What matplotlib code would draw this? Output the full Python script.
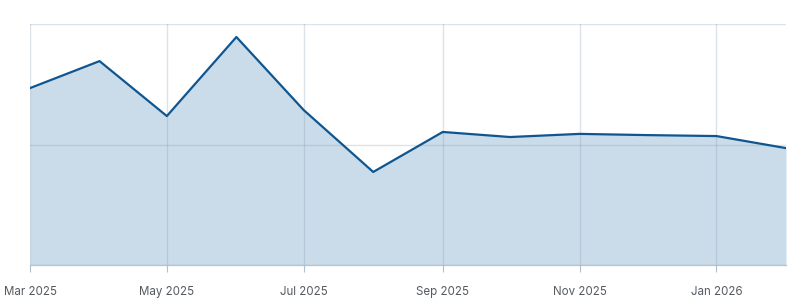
import matplotlib
matplotlib.use("Agg")
import matplotlib.pyplot as plt
import matplotlib.dates as mdates
import numpy as np
import pandas as pd

months = ["2025-03", "2025-04", "2025-05", "2025-06", "2025-07", "2025-08",
          "2025-09", "2025-10", "2025-11", "2025-12", "2026-01", "2026-02"]
values = [73.4, 84.6, 61.8, 94.6, 64.3, 38.6, 55.2, 53.1, 54.4, 53.9, 53.5, 48.5]
tick_months = ["2025-03", "2025-05", "2025-07", "2025-09", "2025-11", "2026-01"]
tick_labels = ["Mar 2025", "May 2025", "Jul 2025", "Sep 2025", "Nov 2025", "Jan 2026"]

x = pd.to_datetime(months)
xt = pd.to_datetime(tick_months)

plt.rcParams['font.family'] = ['Inter', 'DejaVu Sans']
fig = plt.figure(figsize=(7.96, 3.06), dpi=100)
ax = fig.add_axes([30/796, 41/306, 756/796, 241/306])

ax.fill_between(x, values, 0, color="#cadcea", linewidth=0, zorder=1)
ax.plot(x, values, color="#0f5690", linewidth=1.6, zorder=3)

ax.set_xlim(x[0], x[-1])
ax.set_ylim(0, 100)
ax.set_yticks([0, 50, 100])
ax.set_yticklabels([])
ax.tick_params(axis='y', length=0)
ax.set_xticks(xt)
ax.set_xticklabels(tick_labels, fontsize=8.3, color="#555a60")
ax.tick_params(axis='x', length=5, width=0.8, color="#b0bfcc", pad=10)

ax.grid(True, color="#7f98b0", alpha=0.28, linewidth=1.0, zorder=2)
ax.set_axisbelow(False)
for s in ["top", "right", "left"]:
    ax.spines[s].set_visible(False)
ax.spines["bottom"].set_color("#b3c5d5")
ax.spines["bottom"].set_linewidth(0.9)

fig.savefig("out.png", dpi=100)
